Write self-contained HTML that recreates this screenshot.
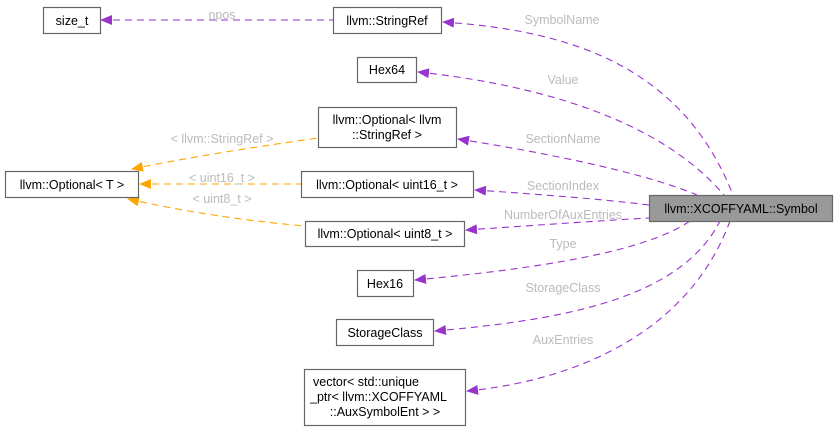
<!DOCTYPE html>
<html><head><meta charset="utf-8"><style>
body{margin:0;background:#fff;width:839px;height:431px;overflow:hidden}
svg text{font-family:"Liberation Sans",Arial,sans-serif;font-size:12.5px}
.n{fill:#fff;stroke:#666;stroke-width:1.2}
.t{fill:#000;text-anchor:middle}
.l{fill:#bbb;text-anchor:middle}
.p{fill:none;stroke:#9a32cd;stroke-width:1.1;stroke-dasharray:7,5}
.o{fill:none;stroke:#ffa500;stroke-width:1.1;stroke-dasharray:7,5}
</style></head><body>
<svg width="839" height="431" viewBox="0 0 839 431">
<defs>
<marker id="ap" markerWidth="12" markerHeight="10" refX="1" refY="5" orient="auto" markerUnits="userSpaceOnUse"><path d="M12,0 L0,5 L12,10z" fill="#9a32cd"/></marker>
<marker id="ao" markerWidth="12" markerHeight="10" refX="1" refY="5" orient="auto" markerUnits="userSpaceOnUse"><path d="M12,0 L0,5 L12,10z" fill="#ffa500"/></marker>
</defs>
<path class="p" marker-start="url(#ap)" d="M101,20 L333,20"/>
<text class="l" x="222" y="19">npos</text>
<path class="p" marker-start="url(#ap)" d="M443,22 C560,30 680,60 733,195"/>
<text class="l" x="562" y="24">SymbolName</text>
<path class="p" marker-start="url(#ap)" d="M418,72 C540,85 660,120 724,195"/>
<text class="l" x="563" y="84">Value</text>
<path class="p" marker-start="url(#ap)" d="M458,139 C560,155 650,175 697,195"/>
<text class="l" x="563" y="143">SectionName</text>
<path class="p" marker-start="url(#ap)" d="M475,190 C550,195 610,200 649,205"/>
<text class="l" x="563" y="190">SectionIndex</text>
<path class="p" marker-start="url(#ap)" d="M466,230 C540,225 610,220 649,218"/>
<text class="l" x="563" y="219">NumberOfAuxEntries</text>
<path class="p" marker-start="url(#ap)" d="M415,280 C520,270 640,255 690,221"/>
<text class="l" x="563" y="248">Type</text>
<path class="p" marker-start="url(#ap)" d="M435,331 C560,320 680,300 720,221"/>
<text class="l" x="563" y="292">StorageClass</text>
<path class="p" marker-start="url(#ap)" d="M467,391 C580,380 690,330 730,221"/>
<text class="l" x="563" y="344">AuxEntries</text>
<path class="o" marker-start="url(#ao)" d="M132,169 C200,155 270,145 318,138"/>
<text class="l" x="222" y="143">&lt; llvm::StringRef &gt;</text>
<path class="o" marker-start="url(#ao)" d="M140,184 L301,184"/>
<text class="l" x="222" y="182">&lt; uint16_t &gt;</text>
<path class="o" marker-start="url(#ao)" d="M128,199 C200,215 260,222 305,226"/>
<text class="l" x="222" y="203">&lt; uint8_t &gt;</text>
<rect class="n" x="43.5" y="7.5" width="57" height="26"/><text class="t" x="72" y="25">size_t</text>
<rect class="n" x="333.5" y="7.5" width="108" height="26"/><text class="t" x="387" y="25">llvm::StringRef</text>
<rect class="n" x="357.5" y="57.5" width="59" height="25"/><text class="t" x="387" y="74">Hex64</text>
<rect class="n" x="318.5" y="107.5" width="138" height="40"/><text class="t" x="387" y="124">llvm::Optional&lt; llvm</text><text class="t" x="387" y="139">::StringRef &gt;</text>
<rect class="n" x="5.5" y="171.5" width="133" height="26"/><text class="t" x="72" y="189">llvm::Optional&lt; T &gt;</text>
<rect class="n" x="301.5" y="171.5" width="172" height="26"/><text class="t" x="387" y="189">llvm::Optional&lt; uint16_t &gt;</text>
<rect class="n" x="305.5" y="221.5" width="159" height="25"/><text class="t" x="385" y="238">llvm::Optional&lt; uint8_t &gt;</text>
<rect x="649.5" y="195.5" width="183" height="26" fill="#999" stroke="#666" stroke-width="1.2"/><text class="t" x="741" y="213">llvm::XCOFFYAML::Symbol</text>
<rect class="n" x="357.5" y="270.5" width="56" height="26"/><text class="t" x="385" y="288">Hex16</text>
<rect class="n" x="336.5" y="319.5" width="97" height="26"/><text class="t" x="385" y="337">StorageClass</text>
<rect class="n" x="304.5" y="369.5" width="161" height="56"/>
<text x="313" y="386" fill="#000">vector&lt; std::unique</text>
<text x="310" y="401" fill="#000">_ptr&lt; llvm::XCOFFYAML</text>
<text class="t" x="385" y="416">::AuxSymbolEnt &gt; &gt;</text>
</svg>
</body></html>
